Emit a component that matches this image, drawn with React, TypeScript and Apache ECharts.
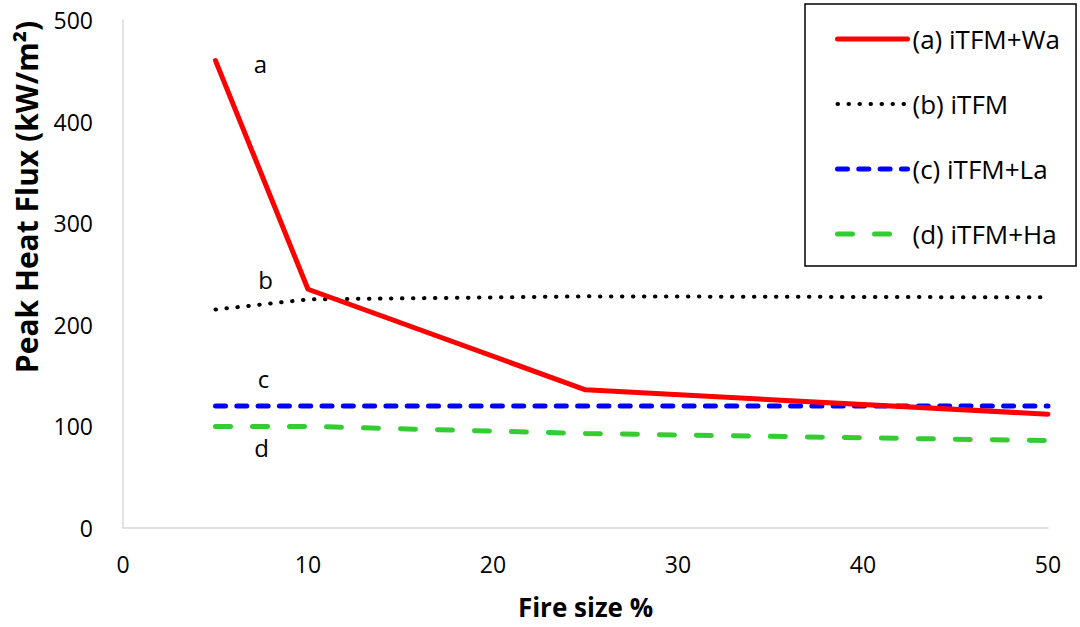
import React, { useEffect, useRef } from "react";
import * as echarts from "echarts";

const fireSize = [5, 10, 25, 50];
const seriesNames = ["(a) iTFM+Wa", "(b) iTFM", "(c) iTFM+La", "(d) iTFM+Ha"];
const valuesA = [460, 235, 136, 112];
const valuesB = [215, 225, 228, 227];
const valuesC = [120, 120, 120, 120];
const valuesD = [100, 100, 93, 86];
const curveTags = ["a", "b", "c", "d"];
const yTicks = { min: 0, max: 500, interval: 100 };
const xTicks = { min: 0, max: 50, interval: 10 };

const FONT = "'Open Sans', 'Noto Sans', sans-serif";

const styles = [
  { color: "#ff0000", width: 5, type: "solid" as any },
  { color: "#000000", width: 4, type: [0.5, 10.5] as any },
  { color: "#0000ff", width: 5, type: [10, 11.3] as any },
  { color: "#33cc33", width: 5, type: [15, 22] as any },
];

const tagOffsets = [
  [45, 3],
  [50, -30],
  [48, -28],
  [46, 21],
];

export default function App() {
  const ref = useRef<HTMLDivElement>(null);
  useEffect(() => {
    if (!ref.current) return;
    const chart = echarts.init(ref.current, null, { renderer: "svg" });
    const all = [valuesA, valuesB, valuesC, valuesD];
    const series = all.map((vals, k) => ({
      type: "line",
      name: seriesNames[k],
      symbol: "none",
      showSymbol: false,
      color: styles[k].color,
      z: k === 0 ? 3 : 2,
      data: fireSize.map((x, i) => [x, vals[i]]),
      lineStyle: { ...styles[k], cap: "round" },
      markPoint: {
        symbol: "circle",
        symbolSize: 0,
        silent: true,
        label: {
          show: true,
          position: "inside",
          formatter: curveTags[k],
          offset: tagOffsets[k],
          color: "#000",
          fontSize: 24,
          fontFamily: FONT,
        },
        data: [{ coord: [fireSize[0], vals[0]] }],
      },
    }));
    chart.setOption({
      animation: false,
      backgroundColor: "#fff",
      textStyle: { fontFamily: FONT },
      grid: { left: 123, right: 32, top: 20, bottom: 99, containLabel: false },
      legend: {
        orient: "vertical",
        left: 805,
        top: 4,
        padding: [22, 16, 19, 30],
        itemGap: 39,
        itemWidth: 70,
        itemHeight: 14,
        borderColor: "#000",
        borderWidth: 1.5,
        backgroundColor: "#fff",
        itemStyle: { opacity: 0 },
        textStyle: { fontSize: 26, color: "#000", fontFamily: FONT, lineHeight: 24 },
        data: seriesNames.map((n, k) => ({
          name: n,
          lineStyle: { ...styles[k], cap: "round" },
          itemStyle: { opacity: 0 },
        })),
      },
      xAxis: {
        type: "value",
        min: xTicks.min,
        max: xTicks.max,
        interval: xTicks.interval,
        name: "Fire size %",
        nameLocation: "middle",
        nameGap: 66,
        nameTextStyle: { fontSize: 26, fontWeight: "bold", color: "#000", fontFamily: FONT },
        axisLine: { show: true, lineStyle: { color: "#d9d9d9", width: 1.5 } },
        axisTick: { show: false },
        splitLine: { show: false },
        axisLabel: { fontSize: 23, color: "#000", margin: 24, fontFamily: FONT },
      },
      yAxis: {
        type: "value",
        min: yTicks.min,
        max: yTicks.max,
        interval: yTicks.interval,
        name: "Peak Heat Flux (kW/m²)",
        nameLocation: "middle",
        nameGap: 82,
        nameTextStyle: {
          fontSize: 30,
          fontWeight: "bold",
          color: "#000",
          fontFamily: FONT,
          padding: [0, 0, 0, 154],
        },
        axisLine: { show: true, lineStyle: { color: "#d9d9d9", width: 1.5 } },
        axisTick: { show: false },
        splitLine: { show: false },
        axisLabel: { fontSize: 23, color: "#000", margin: 30, fontFamily: FONT },
      },
      series,
    });
    return () => chart.dispose();
  }, []);
  return <div ref={ref} style={{ width: 1080, height: 627, position: "absolute", left: 0, top: 0 }} />;
}
